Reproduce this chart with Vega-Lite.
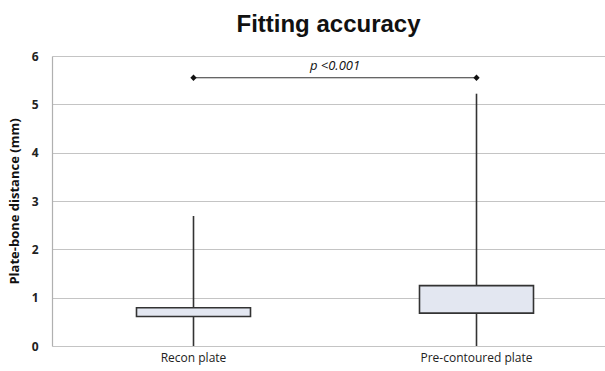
{
  "$schema": "https://vega.github.io/schema/vega-lite/v6.json",
  "autosize": "none",
  "width": 553,
  "height": 290,
  "padding": {"left": 52, "top": 56, "right": 0, "bottom": 25},
  "background": "white",
  "title": {"text": "Fitting accuracy", "fontSize": 24, "fontWeight": "bold", "font": "Liberation Sans", "color": "#111", "anchor": "middle", "offset": 13},
  "config": {"view": {"stroke": null}, "font": "Open Sans"},
  "datasets": {
    "boxes": [
      {"plate": "Recon plate", "min": 0, "q1": 0.61, "q3": 0.79, "max": 2.69},
      {"plate": "Pre-contoured plate", "min": 0, "q1": 0.68, "q3": 1.25, "max": 5.22}
    ],
    "bracket": [
      {"plate": "Recon plate", "y": 5.55},
      {"plate": "Pre-contoured plate", "y": 5.55}
    ],
    "label": [
      {"plate": "Recon plate", "y": 5.79, "text": "p <0.001"}
    ]
  },
  "layer": [
    {
      "data": {"name": "boxes"},
      "mark": {"type": "rule", "color": "#333", "strokeWidth": 1.6},
      "encoding": {
        "x": {"field": "plate", "type": "nominal", "sort": ["Recon plate", "Pre-contoured plate"],
              "scale": {"range": [0, 566], "paddingInner": 0, "paddingOuter": 0},
              "axis": {"title": null, "labelAngle": 0, "ticks": false, "domain": false, "labelFontSize": 12, "labelColor": "#222", "labelPadding": 6, "labelFont": "Open Sans"}},
        "y": {"field": "min", "type": "quantitative",
              "scale": {"domain": [0, 6]},
              "axis": {"title": "Plate-bone distance (mm)", "titleFontSize": 13, "titleFontWeight": "bold", "titleColor": "#111", "titlePadding": 10,
                       "values": [0, 1, 2, 3, 4, 5, 6], "ticks": false, "labelPadding": 14, "labelFontSize": 12, "labelFontWeight": "bold", "labelColor": "#222",
                       "grid": true, "gridColor": "#c4c4c4", "gridWidth": 1.2, "domainColor": "#b0b0b0", "domainWidth": 1.2}},
        "y2": {"field": "max"}
      }
    },
    {
      "data": {"name": "boxes"},
      "mark": {"type": "bar", "size": 114, "fill": "#e3e7f1", "stroke": "#333", "strokeWidth": 1.6},
      "encoding": {
        "x": {"field": "plate", "type": "nominal", "sort": ["Recon plate", "Pre-contoured plate"]},
        "y": {"field": "q1", "type": "quantitative"},
        "y2": {"field": "q3"}
      }
    },
    {
      "data": {"name": "bracket"},
      "mark": {"type": "line", "color": "#333", "strokeWidth": 1.2},
      "encoding": {
        "x": {"field": "plate", "type": "nominal", "sort": ["Recon plate", "Pre-contoured plate"]},
        "y": {"field": "y", "type": "quantitative"}
      }
    },
    {
      "data": {"name": "bracket"},
      "mark": {"type": "point", "shape": "diamond", "filled": true, "color": "#111", "size": 40, "opacity": 1},
      "encoding": {
        "x": {"field": "plate", "type": "nominal", "sort": ["Recon plate", "Pre-contoured plate"]},
        "y": {"field": "y", "type": "quantitative"}
      }
    },
    {
      "data": {"name": "label"},
      "mark": {"type": "text", "fontStyle": "italic", "fontSize": 13, "color": "#111", "align": "center", "baseline": "middle"},
      "encoding": {
        "x": {"field": "plate", "type": "nominal", "sort": ["Recon plate", "Pre-contoured plate"], "bandPosition": 1},
        "y": {"field": "y", "type": "quantitative"},
        "text": {"field": "text"}
      }
    }
  ]
}
